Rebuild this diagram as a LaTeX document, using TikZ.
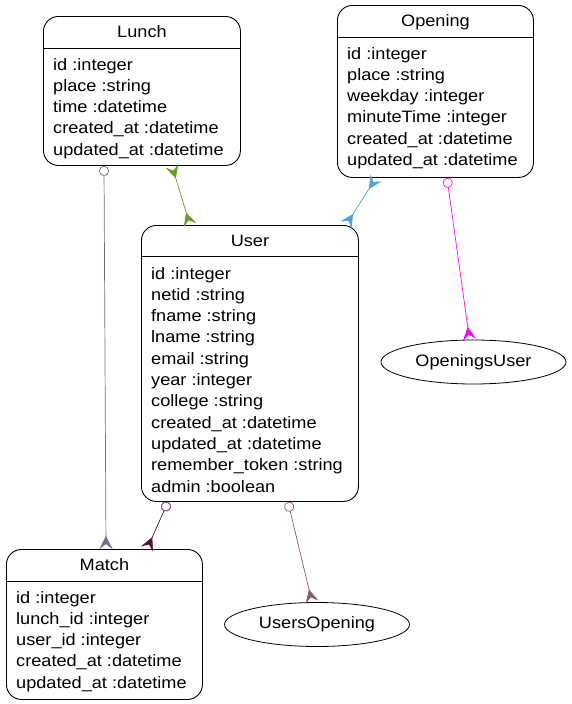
\documentclass[tikz,border=0pt]{standalone}
\usepackage{fontspec}
\setmainfont{Liberation Sans}[FakeStretch=1.1]
\usetikzlibrary{arrows.meta,shapes.geometric}
\definecolor{cgray}{HTML}{6E6E8C}
\definecolor{cgreen}{HTML}{64A021}
\definecolor{cblue}{HTML}{4A9FDC}
\definecolor{cmag}{HTML}{FF00FF}
\definecolor{cdred}{HTML}{5A1424}
\definecolor{cmauve}{HTML}{8C5A6A}
\tikzset{
  entity/.style={draw, rounded corners=15pt, line width=0.9pt, anchor=north west, inner sep=0pt},
  title/.style={anchor=base, inner sep=0pt, font=\fontsize{16.5}{21.3}\selectfont},
  field/.style={anchor=base west, inner sep=0pt, font=\fontsize{16.5}{21.3}\selectfont},
  rel/.style={draw, ellipse, line width=0.8pt, minimum width=185pt, minimum height=44pt, inner sep=0pt, font=\fontsize{16.5}{21.3}\selectfont},
  crow/.tip={Stealth[reversed,length=13pt,width=13pt,inset=5pt]},
  odot/.tip={Circle[open,length=10pt,width=10pt]},
  edge/.style={line width=0.7pt},
}
\newcommand{\entityfields}[2]{%
  \foreach \t [count=\i] in {#2} {
    \node[field] (#1F\i) at ([xshift=10pt,yshift={-54pt-(\i-1)*21.3pt}]#1.north west) {\t};
  }%
}
\begin{document}
\begin{tikzpicture}[x=1pt,y=-1pt]
\useasboundingbox (0,0) rectangle (572,704);
% Lunch
\node[entity, minimum width=197pt, minimum height=149pt] (Lunch) at (43,16) {};
\node[title] (LunchT) at ([yshift=-21.3pt]Lunch.north) {Lunch};
\draw[line width=0.9pt] ([yshift=-32pt]Lunch.north west) -- ([yshift=-32pt]Lunch.north east);
\entityfields{Lunch}{id :integer,place :string,time :datetime,created\_at :datetime,updated\_at :datetime}
% Opening
\node[entity, minimum width=196pt, minimum height=172pt] (Opening) at (337,5) {};
\node[title] (OpeningT) at ([yshift=-21.3pt]Opening.north) {Opening};
\draw[line width=0.9pt] ([yshift=-32pt]Opening.north west) -- ([yshift=-32pt]Opening.north east);
\entityfields{Opening}{id :integer,place :string,weekday :integer,minuteTime :integer,created\_at :datetime,updated\_at :datetime}
% User
\node[entity, minimum width=217pt, minimum height=276pt] (User) at (141,225) {};
\node[title] (UserT) at ([yshift=-21.3pt]User.north) {User};
\draw[line width=0.9pt] ([yshift=-31pt]User.north west) -- ([yshift=-31pt]User.north east);
\entityfields{User}{id :integer,netid :string,fname :string,lname :string,email :string,year :integer,college :string,created\_at :datetime,updated\_at :datetime,remember\_token :string,admin :boolean}
% Match
\node[entity, minimum width=196pt, minimum height=150pt] (Match) at (6,549) {};
\node[title] (MatchT) at ([yshift=-21.3pt]Match.north) {Match};
\draw[line width=0.9pt] ([yshift=-32pt]Match.north west) -- ([yshift=-32pt]Match.north east);
\entityfields{Match}{id :integer,lunch\_id :integer,user\_id :integer,created\_at :datetime,updated\_at :datetime}
% join tables
\node[rel] (OU) at (473.5,362) {OpeningsUser};
\node[rel] (UO) at (317,624.5) {UsersOpening};
% edges
\draw[edge, cgray, odot-crow] ([xshift=61pt]Lunch.south west) -- ([xshift=100pt]Match.north west);
\draw[edge, cgreen, crow-crow] ([xshift=129pt]Lunch.south west) -- ([xshift=49pt]User.north west);
\draw[edge, cblue, crow-crow] ([xshift=39pt]Opening.south west) -- ([xshift=205pt]User.north west);
\draw[edge, cmag, odot-crow] ([xshift=110pt]Opening.south west) -- ([xshift=-4pt]OU.north);
\draw[edge, cdred, odot-crow] ([xshift=27pt]User.south west) -- ([xshift=141pt]Match.north west);
\draw[edge, cmauve, odot-crow] ([xshift=147pt]User.south west) -- ([xshift=-5pt]UO.north);
\end{tikzpicture}
\end{document}
